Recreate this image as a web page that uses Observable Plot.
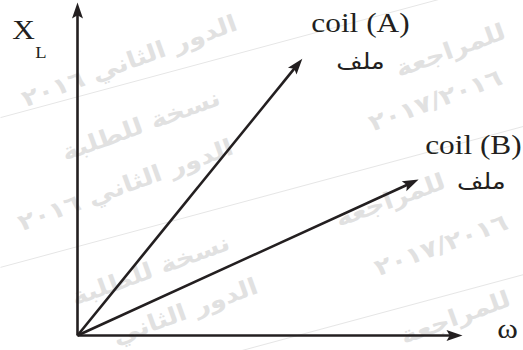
<!DOCTYPE html>
<html><head><meta charset="utf-8">
<script src="https://cdn.jsdelivr.net/npm/d3@7"></script>
<script src="https://cdn.jsdelivr.net/npm/@observablehq/plot@0.6"></script>
<style>html,body{margin:0;padding:0;background:#fff;overflow:hidden;width:523px;height:350px}</style>
</head><body><div id="chart"></div>
<script>
// vectors drawn from the origin (data units)
const vectorNames = ["ω axis", "X_L axis", "coil (A)", "coil (B)"];
const vectorX = [10, 0, 5.84, 8.86];
const vectorY = [0, 8.65, 7.19, 4.05];

// labels
const coilLabels = ["coil (A)", "coil (B)"];
const coilLabelX = [7.35, 9.03];
const coilLabelY = [8.10, 4.94];
const arabicLabels = ["ملف", "ملف"];
const arabicLabelX = [7.35, 10.49];
const arabicLabelY = [7.10, 3.98];
const axisLabels = ["ω", "X", "L"];
const axisLabelX = [11.17, -1.40, -0.95];
const axisLabelY = [0.15, 7.92, 7.33];

// faint background watermark
const watermarkText = ["الدور الثاني ٢٠١٦", "للمراجعة", "٢٠١٧/٢٠١٦", "نسخة للطلبة", "الدور الثاني ٢٠١٦", "للمراجعة", "٢٠١٧/٢٠١٦", "نسخة للطلبة", "الدور الثاني", "للمراجعة"];
const watermarkX = [1.35, 9.69, 9.3, 1.65, 1.25, 8.13, 9.45, 1.9, 2.8, 9.82];
const watermarkY = [7.12, 7.40, 6.10, 5.45, 3.90, 3.51, 2.34, 1.69, 0.62, 0.46];
const ruleX1 = [-2, -2, -2];
const ruleY1 = [5.66, 1.77, -2.08];
const ruleX2 = [11.58, 11.58, 11.58];
const ruleY2 = [9.32, 5.43, 1.58];

const PX = 38.5; // px per data unit (same on both axes)
const headLen = 16, headWid = 11;
const arrowHead = {
  draw(ctx) {
    ctx.moveTo(0, 0);
    ctx.lineTo(-headWid / 2, headLen);
    ctx.lineTo(0, headLen * 0.8);
    ctx.lineTo(headWid / 2, headLen);
    ctx.closePath();
  }
};

const vectors = vectorNames.map((name, i) => {
  const len = Math.hypot(vectorX[i], vectorY[i]);
  const k = 1 - (headLen * 0.7 / PX) / len;
  return {name, x: vectorX[i], y: vectorY[i], xs: vectorX[i] * k, ys: vectorY[i] * k,
    angle: Math.atan2(vectorX[i], vectorY[i]) * 180 / Math.PI};
});
const coil = coilLabels.map((t, i) => ({t, x: coilLabelX[i], y: coilLabelY[i]}));
const arabic = arabicLabels.map((t, i) => ({t, x: arabicLabelX[i], y: arabicLabelY[i]}));
const axl = axisLabels.map((t, i) => ({t, x: axisLabelX[i], y: axisLabelY[i]}));
const wm = watermarkText.map((t, i) => ({t, x: watermarkX[i], y: watermarkY[i]}));
const rules = ruleX1.map((x1, i) => ({x1, y1: ruleY1[i], x2: ruleX2[i], y2: ruleY2[i]}));

const ink = "#231f20";
const serif = "'Liberation Serif', 'Times New Roman', serif";
const plot = Plot.plot({
  width: 523, height: 350,
  marginLeft: 77, marginRight: 61, marginTop: 2, marginBottom: 15,
  x: {domain: [0, 10], axis: null},
  y: {domain: [0, 8.65], axis: null},
  style: {background: "#fff", overflow: "hidden"},
  marks: [
    Plot.link(rules, {x1: "x1", y1: "y1", x2: "x2", y2: "y2", stroke: "#e6e6e6", strokeWidth: 1}),
    Plot.text(wm, {x: "x", y: "y", text: "t", rotate: -20, fontSize: 23, fontWeight: "bold",
      fill: "#e1e1e1", fontFamily: "'DejaVu Sans', sans-serif"}),
    Plot.link(vectors, {x1: 0, y1: 0, x2: "xs", y2: "ys", stroke: ink, strokeWidth: 2.6}),
    Plot.dot(vectors, {x: "x", y: "y", symbol: arrowHead, rotate: "angle", fill: ink, stroke: "none"}),
    Plot.text(coil.slice(0, 1), {x: "x", y: "y", text: "t", fontSize: 27, fontFamily: serif, fill: ink}),
    Plot.text(coil.slice(1), {x: "x", y: "y", text: "t", textAnchor: "start", fontSize: 27, fontFamily: serif, fill: ink}),
    Plot.text(arabic, {x: "x", y: "y", text: "t", fontSize: 22, fontFamily: "'DejaVu Sans', sans-serif", fill: ink}),
    Plot.text(axl.slice(0, 2), {x: "x", y: "y", text: "t", fontSize: 27, fontFamily: serif, fill: ink}),
    Plot.text(axl.slice(2), {x: "x", y: "y", text: "t", fontSize: 16, fontFamily: serif, fill: ink})
  ]
});
// horizontal stretch of the printed text, as in the scanned figure
d3.select(plot).selectAll("text").each(function () {
  const t = this.getAttribute("transform") || "";
  this.setAttribute("transform", t + " scale(1.16,1)");
});
document.getElementById("chart").appendChild(plot);
</script></body></html>
